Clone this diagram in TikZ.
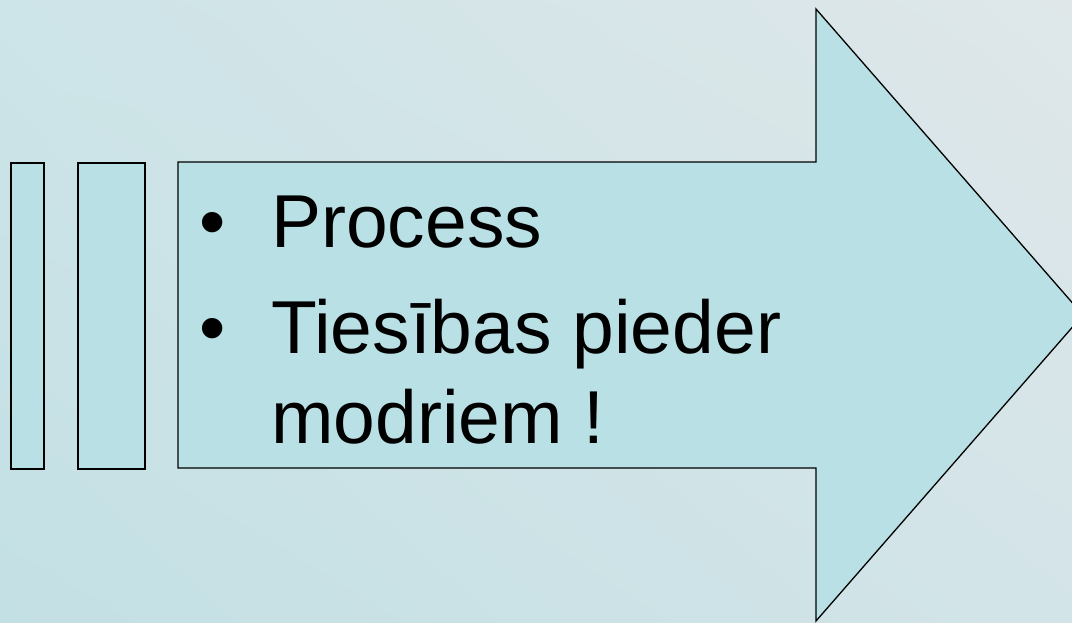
\documentclass[tikz,border=0pt]{standalone}
\usepackage{fontspec}
\setmainfont{Liberation Sans}
\usetikzlibrary{positioning, shadings}

\definecolor{shapefill}{HTML}{B9E0E4}
\definecolor{bgA}{HTML}{CDE4E8}
\definecolor{bgB}{HTML}{DFE7E9}
\definecolor{bgC}{HTML}{C3E0E4}
\definecolor{bgD}{HTML}{D3E4E8}

\begin{document}
\begin{tikzpicture}[
    x=1pt, y=-1pt,
    % Styles
    bar/.style={draw, line width=1.3pt, fill=shapefill, minimum height=306pt, inner sep=0pt},
    arrowbody/.style={draw, line width=1.3pt, fill=shapefill, line join=miter},
    bullet/.style={anchor=base west, inner sep=0pt, font=\fontsize{75}{90}\selectfont},
    line/.style={anchor=base west, inner sep=0pt, font=\fontsize{75}{90}\selectfont}
]

    % --- Background ---
    \useasboundingbox (0,0) rectangle (1072,622);
    \clip (0,0) rectangle (1072,622);
    \shade[upper left=bgA, upper right=bgB, lower left=bgC, lower right=bgD]
        (0,0) rectangle (1072,622);

    % --- Bars ---
    \node[bar, minimum width=33pt] (bar1) at (27.5,316) {};
    \node[bar, minimum width=67pt] (bar2) at (111.5,316) {};

    % --- Arrow ---
    \draw[arrowbody] (178,162) -- (816,162) -- (816,9) -- (1083,315)
        -- (816,621) -- (816,468) -- (178,468) -- cycle;

    % --- Text ---
    \node[bullet] (b1) at (199,247) {•};
    \node[line] (t1) at (271,247) {Process};
    \node[bullet] (b2) at (199,353) {•};
    \node[line] (t2) at (271,353) {Tiesības pieder};
    \node[line] (t3) at (271,443) {modriem !};

\end{tikzpicture}
\end{document}
